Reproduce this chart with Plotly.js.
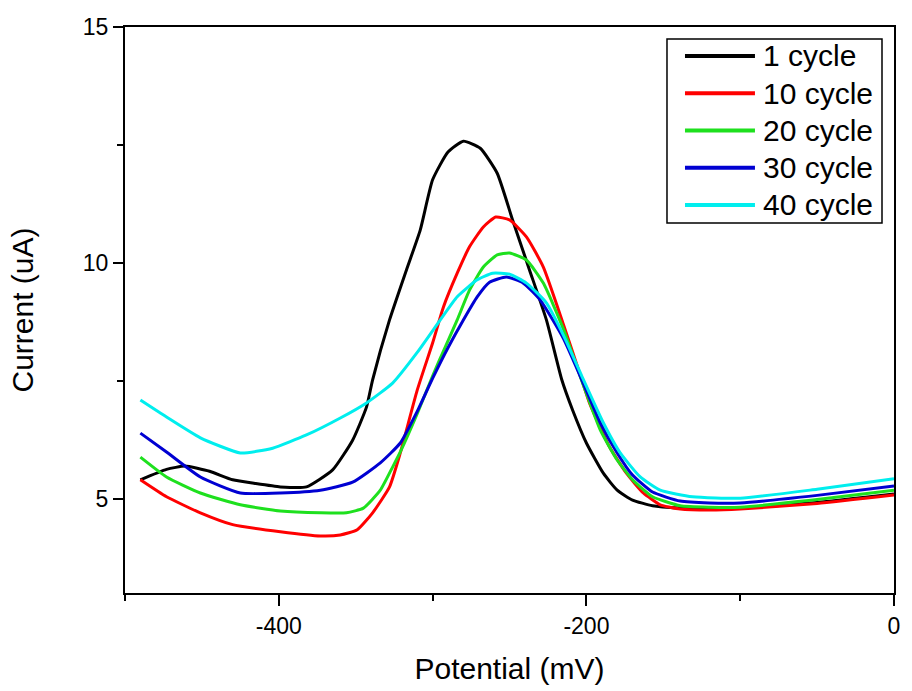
<!DOCTYPE html>
<html>
<head>
<meta charset="utf-8">
<script src="https://cdn.plot.ly/plotly-3.0.1.min.js"></script>
<style>html,body{margin:0;padding:0;background:#fff;}#chart{width:912px;height:691px;}</style>
</head>
<body>
<div id="chart"></div>
<script>
// Series names and colours
var seriesNames = ["1 cycle", "10 cycle", "20 cycle", "30 cycle", "40 cycle"];
var seriesColors = ["#000000", "#ff0000", "#1ee01e", "#0000d2", "#00eeee"];

// x tick labels as printed (ASCII hyphen)
var xTickVals = [-400, -200, 0];
var xTickText = ["-400", "-200", "0"];

// 1 cycle
var x1 = [-490, -473, -461, -445, -430, -415, -399, -382, -365, -352, -343, -339, -328, -317, -308, -300, -290, -280, -269, -258, -248, -237, -226, -216, -209, -200, -189, -180, -170, -157, -139, -120, -100, -50, 0];
var y1 = [5.40, 5.62, 5.69, 5.58, 5.40, 5.32, 5.25, 5.25, 5.61, 6.24, 6.94, 7.52, 8.79, 9.85, 10.70, 11.76, 12.35, 12.58, 12.43, 11.90, 10.91, 9.85, 8.79, 7.52, 6.88, 6.18, 5.54, 5.18, 4.97, 4.85, 4.80, 4.78, 4.80, 4.92, 5.10];

// 10 cycle
var x10 = [-490, -473, -451, -430, -399, -373, -360, -349, -339, -328, -321, -310, -300, -293, -284, -276, -267, -259, -250, -239, -228, -215, -203, -198, -185, -174, -163, -152, -139, -120, -100, -50, 0];
var y10 = [5.40, 5.04, 4.70, 4.45, 4.30, 4.21, 4.23, 4.34, 4.70, 5.25, 5.97, 7.30, 8.30, 9.06, 9.78, 10.34, 10.76, 10.97, 10.91, 10.55, 9.91, 8.70, 7.52, 7.03, 6.10, 5.54, 5.12, 4.87, 4.78, 4.76, 4.78, 4.90, 5.08];

// 20 cycle
var x20 = [-490, -473, -451, -425, -399, -373, -356, -345, -334, -326, -321, -310, -300, -292, -284, -276, -267, -258, -250, -239, -228, -215, -203, -191, -180, -170, -157, -139, -120, -100, -50, 0];
var y20 = [5.88, 5.46, 5.12, 4.87, 4.74, 4.70, 4.70, 4.80, 5.18, 5.67, 5.99, 6.80, 7.60, 8.20, 8.79, 9.42, 9.91, 10.17, 10.21, 10.06, 9.57, 8.60, 7.50, 6.46, 5.82, 5.40, 5.04, 4.85, 4.82, 4.82, 4.98, 5.18];

// 30 cycle
var x30 = [-490, -473, -451, -425, -399, -373, -352, -334, -321, -310, -300, -290, -280, -271, -263, -252, -241, -230, -215, -203, -191, -180, -170, -157, -139, -120, -100, -50, 0];
var y30 = [6.39, 5.99, 5.46, 5.12, 5.12, 5.18, 5.35, 5.76, 6.18, 6.85, 7.55, 8.20, 8.79, 9.28, 9.59, 9.70, 9.57, 9.21, 8.40, 7.52, 6.61, 5.97, 5.50, 5.14, 4.95, 4.91, 4.91, 5.07, 5.27];

// 40 cycle
var x40 = [-490, -473, -451, -425, -404, -382, -360, -343, -326, -310, -295, -284, -271, -261, -250, -239, -226, -214, -203, -189, -178, -165, -152, -131, -100, -50, 0];
var y40 = [7.09, 6.73, 6.29, 5.97, 6.07, 6.35, 6.71, 7.03, 7.45, 8.10, 8.79, 9.28, 9.64, 9.78, 9.76, 9.57, 9.15, 8.40, 7.60, 6.61, 5.97, 5.46, 5.18, 5.04, 5.01, 5.20, 5.42];

var xs = [x1, x10, x20, x30, x40];
var ys = [y1, y10, y20, y30, y40];

var font = "Liberation Sans, Arial, sans-serif";

var traces = seriesNames.map(function (n, i) {
  return {
    x: xs[i], y: ys[i], name: n, type: "scatter", mode: "lines",
    line: {color: seriesColors[i], width: 3, shape: "spline", smoothing: 0.5},
    showlegend: false, hoverinfo: "x+y"
  };
});

// custom legend (shapes + annotations in paper coordinates)
var shapes = [{
  type: "rect", xref: "paper", yref: "paper",
  x0: 0.7048, x1: 0.9844, y0: 0.6537, y1: 0.9788,
  line: {color: "#000", width: 1.5}, fillcolor: "rgba(255,255,255,1)", layer: "above"
}];
var annotations = [];
seriesNames.forEach(function (n, i) {
  var yy = 0.9488 - i * 0.0658;
  shapes.push({type: "line", xref: "paper", yref: "paper", x0: 0.7282, x1: 0.8192, y0: yy, y1: yy,
    line: {color: seriesColors[i], width: 4}, layer: "above"});
  annotations.push({xref: "paper", yref: "paper", x: 0.8270, y: yy, xanchor: "left", yanchor: "middle",
    text: n, showarrow: false, font: {family: font, size: 30, color: "#000"}});
});

var layout = {
  width: 912, height: 691,
  margin: {l: 125, r: 18, t: 27, b: 98},
  paper_bgcolor: "#fff", plot_bgcolor: "#fff",
  font: {family: font, color: "#000"},
  showlegend: false,
  xaxis: {
    range: [-500, 0], tickmode: "array", tickvals: xTickVals, ticktext: xTickText,
    ticks: "outside", ticklen: 11, tickwidth: 2, tickcolor: "#000",
    minor: {tickmode: "linear", tick0: 0, dtick: 100, ticks: "outside", ticklen: 6, tickwidth: 2, tickcolor: "#000", showgrid: false},
    showline: true, linecolor: "#000", linewidth: 2, mirror: true,
    showgrid: false, zeroline: false,
    tickfont: {family: font, size: 23, color: "#000"},
    title: {text: "Potential (mV)", font: {family: font, size: 30, color: "#000"}, standoff: 20}
  },
  yaxis: {
    range: [3, 15], tickmode: "linear", tick0: 0, dtick: 5,
    ticks: "outside", ticklen: 10, tickwidth: 2, tickcolor: "#000",
    minor: {tickmode: "linear", tick0: 0, dtick: 2.5, ticks: "outside", ticklen: 6, tickwidth: 2, tickcolor: "#000", showgrid: false},
    showline: true, linecolor: "#000", linewidth: 2, mirror: true,
    showgrid: false, zeroline: false,
    tickfont: {family: font, size: 23, color: "#000"},
    title: {text: "Current (uA)", font: {family: font, size: 30, color: "#000"}, standoff: 40}
  },
  shapes: shapes,
  annotations: annotations
};

Plotly.newPlot("chart", traces, layout, {displayModeBar: false, staticPlot: true});
</script>
</body>
</html>
